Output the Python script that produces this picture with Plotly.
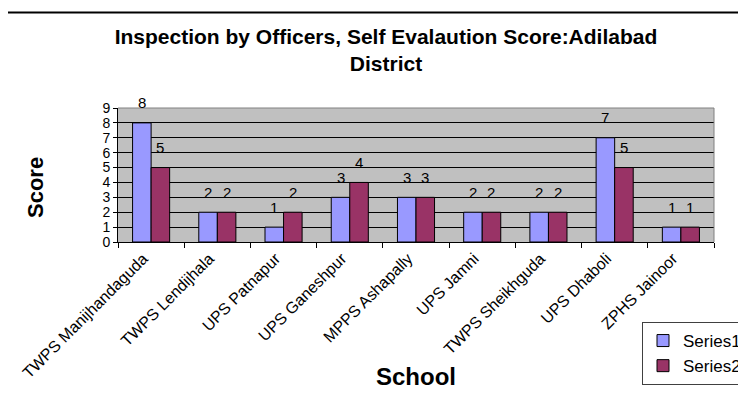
import plotly.graph_objects as go

schools = ["TWPS Manijhandaguda", "TWPS Lendijhala", "UPS Patnapur", "UPS Ganeshpur",
           "MPPS Ashapally", "UPS Jamni", "TWPS Sheikhguda", "UPS Dhaboli", "ZPHS Jainoor"]
series1 = [8, 2, 1, 3, 3, 2, 2, 7, 1]
series2 = [5, 2, 2, 4, 3, 2, 2, 5, 1]
y_ticks = list(range(0, 10))

FONT = "Arial, Liberation Sans, sans-serif"
W, H = 746, 393
OFF = 8                      # page body margin of the exported html
# plot area as seen on the page (pixels)
PL, PR, PT, PB = 118, 714, 108, 242
PW, PH = PR - PL, PB - PT
ML, MT = PL - OFF, PT - OFF
MR, MB = W - ML - PW, H - MT - PH
BARGAP = 0.44


def px(sx):
    return (sx - PL) / PW


def py(sy):
    return (PB - sy) / PH


fig = go.Figure()
fig.add_trace(go.Bar(x=schools, y=series1, name="Series1", legendgroup="s1",
                     marker=dict(color="#9999FF", line=dict(color="black", width=1))))
fig.add_trace(go.Bar(x=schools, y=series2, name="Series2", legendgroup="s2",
                     marker=dict(color="#993366", line=dict(color="black", width=1))))

# data labels above each bar
cat_w = PW / len(schools)
bar_w = cat_w * (1 - BARGAP) / 2
ann = []
for vals, shift in ((series1, -bar_w / 2), (series2, bar_w / 2)):
    for s, v in zip(schools, vals):
        ann.append(dict(x=s, y=v, xref="x", yref="y", text=str(v), showarrow=False,
                        xshift=shift, yshift=20, yanchor="middle", xanchor="center",
                        font=dict(family=FONT, size=15, color="black")))
# axis titles
ann.append(dict(x=px(35), y=py(188), xref="paper", yref="paper", xanchor="center",
                yanchor="middle", text="<b>Score</b>", textangle=-90, showarrow=False,
                font=dict(family=FONT, size=22, color="black")))
ann.append(dict(x=px(416), y=py(376), xref="paper", yref="paper", xanchor="center",
                yanchor="middle", text="<b>School</b>", showarrow=False,
                font=dict(family=FONT, size=24, color="black")))

shapes = [
    # outer chart border
    dict(type="rect", xref="paper", yref="paper",
         x0=px(7), x1=px(W + 30), y0=py(H + 30), y1=py(12.5),
         line=dict(color="black", width=2), layer="below"),
    # gray plot-area border (top & right)
    dict(type="path", xref="paper", yref="paper", path="M 0,1 L 1,1 L 1,0",
         line=dict(color="#808080", width=1), layer="above"),
]

fig.update_layout(
    width=W, height=H,
    margin=dict(l=ML, r=MR, t=MT, b=MB, autoexpand=False),
    paper_bgcolor="white", plot_bgcolor="#C0C0C0",
    barmode="group", bargap=BARGAP, bargroupgap=0,
    font=dict(family=FONT, color="black"),
    title=dict(text="Inspection by Officers, Self Evalaution Score:Adilabad<br>District",
               x=(386 - OFF) / W, xanchor="center", xref="container",
               y=1 - 36 / H, yanchor="top", yref="container",
               font=dict(family=FONT, size=21, color="black", weight="bold")),
    xaxis=dict(type="category", tickangle=-45, tickfont=dict(family=FONT, size=16, color="black"),
               ticks="outside", ticklen=5, tickcolor="black", tickson="boundaries",
               ticklabelshift=-8,
               showline=True, linecolor="black", linewidth=1, showgrid=False,
               automargin=False),
    yaxis=dict(range=[0, 9], tickvals=y_ticks, ticktext=[str(t) for t in y_ticks],
               tickfont=dict(family=FONT, size=14, color="black"),
               ticks="outside", ticklen=4, tickcolor="black",
               showline=True, linecolor="black", linewidth=1,
               showgrid=True, gridcolor="black", gridwidth=1, zeroline=False,
               automargin=False),
    legend=dict(x=px(642), y=py(322), xanchor="left", yanchor="top",
                xref="paper", yref="paper",
                bgcolor="white", bordercolor="#404040", borderwidth=1,
                font=dict(family=FONT, size=17, color="black"),
                tracegroupgap=12, traceorder="normal"),
    annotations=ann,
    shapes=shapes,
)

fig.write_html("out.html")
